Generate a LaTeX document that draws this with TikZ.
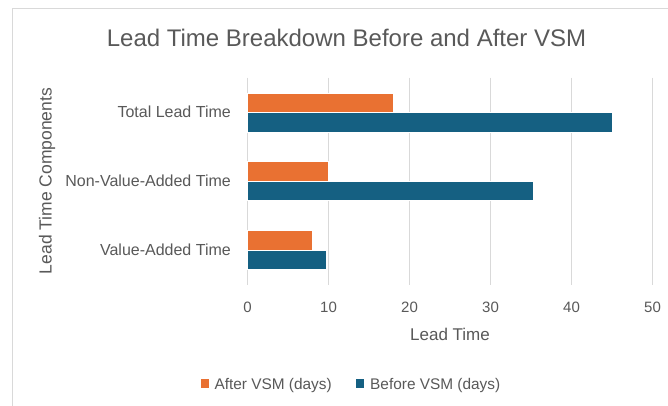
\documentclass[tikz,border=0pt]{standalone}
\usepackage{fontspec}
\setmainfont{Liberation Sans}

\definecolor{afterclr}{HTML}{E97132}
\definecolor{beforeclr}{HTML}{156082}
\definecolor{txtgray}{HTML}{595959}
\definecolor{gridgray}{HTML}{D9D9D9}

\tikzset{
  gridline/.style={gridgray, line width=1pt},
  afterbar/.style={fill=afterclr, draw=white, line width=0.4pt},
  beforebar/.style={fill=beforeclr, draw=white, line width=0.4pt},
  lbl/.style={text=txtgray, inner sep=0pt},
}

\begin{document}
\begin{tikzpicture}[x=1pt, y=-1pt]
                \useasboundingbox (0,0) rectangle (668,405);
                \fill [white] (0,0) rectangle (668,405);
                \clip (0,0) rectangle (668,405);
                % frame
                \draw [gridgray, line width=1pt] (12.5,8) rectangle (700,440);
                % title
                \node [lbl, anchor=base, font=\fontsize{24}{28}\selectfont] (title) at (346.5,46.7) {Lead Time Breakdown Before and After VSM};
                % grid and ticks
                \foreach \v in {0,10,...,50} {
                    \draw [gridline] (247.5+8.1*\v,77.5) -- (247.5+8.1*\v,285);
                    \node [lbl, anchor=base, font=\fontsize{15}{18}\selectfont] (tick\v) at (247.5+8.1*\v,312.3) {\v};
                }
                % bars
                \foreach \c/\a/\b in {112.3/18/45, 181/10/35.3, 250/8/9.7} {
                    \draw [afterbar] (247.5,\c-19.5) rectangle (247.5+8.1*\a,\c);
                    \draw [beforebar] (247.5,\c) rectangle (247.5+8.1*\b,\c+19.5);
                }
                % categories
                \node [lbl, anchor=base east, font=\fontsize{16}{19}\selectfont] (total) at (231,117.5) {Total Lead Time};
                \node [lbl, anchor=base east, font=\fontsize{16}{19}\selectfont] (nva) at (231,186.5) {Non-Value-Added Time};
                \node [lbl, anchor=base east, font=\fontsize{16}{19}\selectfont] (va) at (231,255.7) {Value-Added Time};
                % axis titles
                \node [lbl, rotate=90, font=\fontsize{17.5}{21}\selectfont] (ytitle) at (47,181) {Lead Time Components};
                \node [lbl, anchor=base, font=\fontsize{17}{20}\selectfont] (xtitle) at (450,340) {Lead Time};
                % legend
                \fill [afterclr] (200.7,379.3) rectangle (209,387.7);
                \node [lbl, anchor=base west, font=\fontsize{15.4}{18}\selectfont] (afterkey) at (214.3,389) {After VSM (days)};
                \fill [beforeclr] (355.7,379.3) rectangle (364,387.7);
                \node [lbl, anchor=base west, font=\fontsize{15.4}{18}\selectfont] (beforekey) at (370,389) {Before VSM (days)};
            \end{tikzpicture}
\end{document}
